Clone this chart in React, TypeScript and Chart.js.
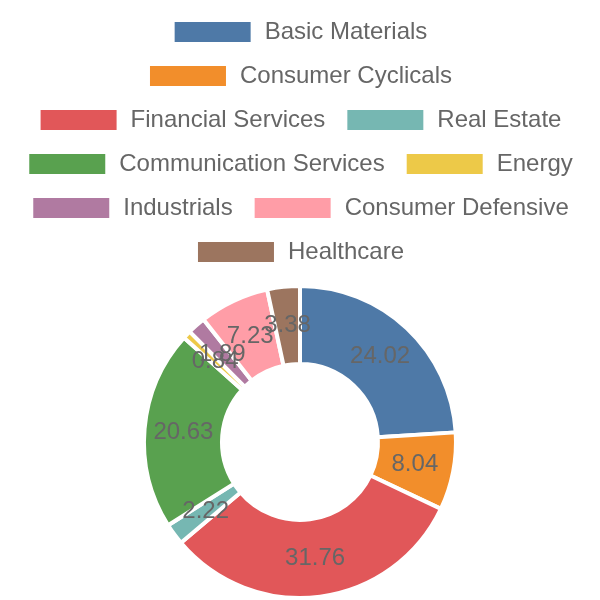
import React, { useEffect, useRef } from "react";
import { Chart, registerables } from "chart.js";

Chart.register(...registerables);

const categories = [
  "Basic Materials",
  "Consumer Cyclicals",
  "Financial Services",
  "Real Estate",
  "Communication Services",
  "Energy",
  "Industrials",
  "Consumer Defensive",
  "Healthcare",
];
const values = [24.02, 8.04, 31.76, 2.22, 20.63, 0.84, 1.89, 7.23, 3.38];
const colors = [
  "#4e79a7",
  "#f28e2b",
  "#e15759",
  "#76b7b2",
  "#59a14f",
  "#edc948",
  "#b07aa1",
  "#ff9da7",
  "#9c755f",
];

const FONT = "'Liberation Sans', Arial, sans-serif";

const labelPlugin = {
  id: "arcLabels",
  afterDatasetsDraw(chart: any) {
    const ctx = chart.ctx;
    const meta = chart.getDatasetMeta(0);
    ctx.save();
    ctx.font = `24px ${FONT}`;
    ctx.fillStyle = "#666666";
    ctx.textAlign = "center";
    ctx.textBaseline = "middle";
    meta.data.forEach((arc: any, i: number) => {
      const p = arc.getCenterPoint();
      ctx.fillText(String(values[i]), p.x, p.y);
    });
    ctx.restore();
  },
};

export default function App() {
  const ref = useRef<HTMLCanvasElement>(null);
  useEffect(() => {
    if (!ref.current) return;
    const chart: any = new Chart(ref.current, {
      type: "doughnut",
      data: {
        labels: categories,
        datasets: [
          {
            data: values,
            backgroundColor: colors,
            borderColor: "#ffffff",
            borderWidth: 4,
          },
        ],
      },
      options: {
        animation: false,
        responsive: true,
        maintainAspectRatio: false,
        cutout: "50%",
        plugins: {
          legend: {
            position: "top",
            labels: {
              font: { size: 24, family: FONT },
              color: "#666666",
              boxWidth: 80,
              padding: 20,
            },
          },
          tooltip: { enabled: false },
        },
      },
      plugins: [labelPlugin],
    });
    const legend = chart.legend;
    if (legend) {
      const origFit = legend.fit;
      legend.fit = function () {
        origFit.call(this);
        this.height += 10;
      };
      chart.update();
    }
    return () => chart.destroy();
  }, []);
  return (
    <div style={{ position: "absolute", left: 0, top: 0, width: 600, height: 600 }}>
      <canvas ref={ref} />
    </div>
  );
}
